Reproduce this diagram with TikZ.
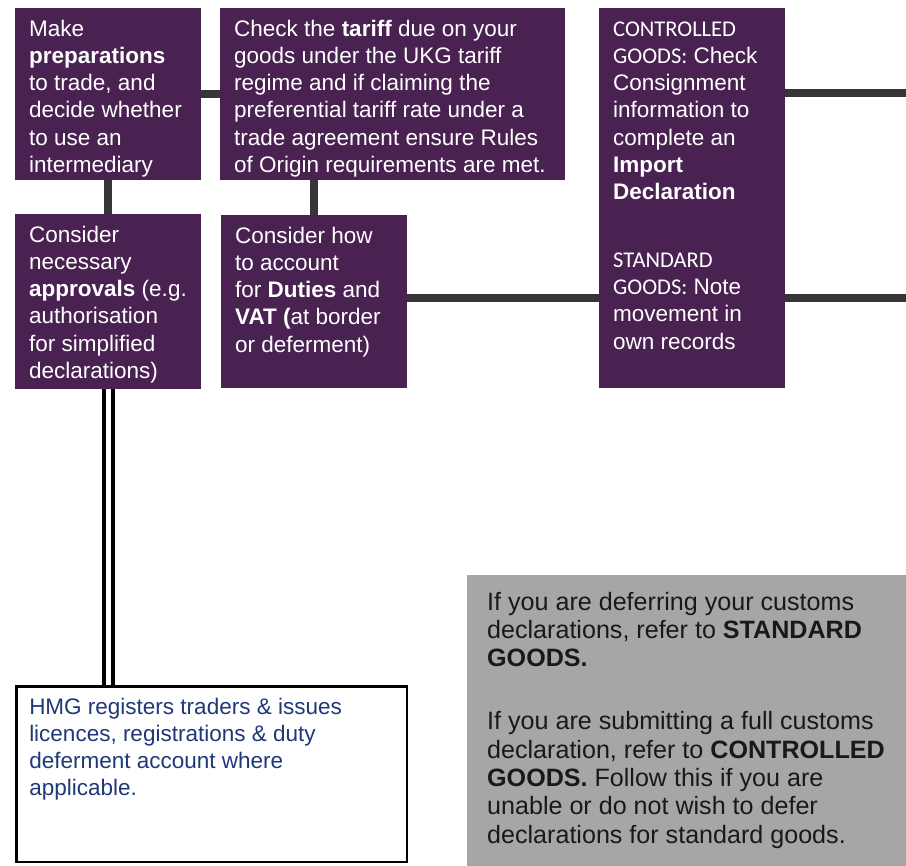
\documentclass[tikz,border=0pt]{standalone}
\usepackage{fontspec}
\setmainfont{Liberation Sans}
\newfontfamily\capsfont{Carlito}
\usetikzlibrary{positioning}
\definecolor{plum}{RGB}{74,34,82}
\definecolor{linkgrey}{RGB}{54,54,54}
\definecolor{notegrey}{RGB}{166,166,166}
\definecolor{navy}{RGB}{31,56,120}
\newcommand{\boxtext}[3]{\parbox[t][#1][t]{#2}{\raggedright\strut #3}}

\begin{document}
\begin{tikzpicture}[
		x=1pt, y=-1pt,
		stepbox/.style={fill=plum, text=white, anchor=north west, inner xsep=14pt, inner ysep=9pt,
			font=\fontsize{22.5}{27.2}\selectfont},
		hmgbox/.style={draw=black, line width=2.5pt, fill=white, text=navy, anchor=north west,
			inner xsep=12.75pt, inner ysep=8.7pt, font=\fontsize{22.5}{27.2}\selectfont},
		notebox/.style={fill=notegrey, text=black!90, anchor=north west, inner xsep=20pt, inner ysep=15pt,
			font=\fontsize{25.1}{28.3}\selectfont},
		link/.style={draw=linkgrey, line width=7.5pt},
		dbllink/.style={draw=black, line width=4pt, double=white, double distance=5pt}
		]
		\useasboundingbox (0,0) rectangle (906,866);
		
		\node[stepbox] (prep) at (15,8) {\boxtext{154pt}{158pt}{Make\\
			\textbf{preparations}\\
			to trade, and\\
			decide whether\\
			to use an\\
			intermediary}};
		\node[stepbox] (tariff) at (220,8) {\boxtext{154pt}{317pt}{Check the \textbf{tariff} due on your\\
			goods under the UKG tariff\\
			regime and if claiming the\\
			preferential tariff rate under a\\
			trade agreement ensure Rules\\
			\mbox{of Origin requirements are met.}}};
		\node[stepbox] (consign) at (599,8) {\boxtext{362pt}{158pt}{{\capsfont CONTROLLED}\\
			{\capsfont GOODS:} Check\\
			Consignment\\
			information to\\
			complete an\\
			\textbf{Import}\\
			\textbf{Declaration}\\[40.8pt]
			{\capsfont STANDARD}\\
			{\capsfont GOODS:} Note\\
			movement in\\
			own records}};
		\node[stepbox] (approv) at (15,214) {\boxtext{157pt}{158pt}{Consider\\
			necessary\\
			\mbox{\textbf{approvals} (e.g.}\\
			authorisation\\
			for simplified\\
			declarations)}};
		\node[stepbox] (duties) at (221,215) {\boxtext{155pt}{158pt}{Consider how\\
			to account\\
			\mbox{for \textbf{Duties} and}\\
			\mbox{\textbf{VAT (}at border}\\
			or deferment)}};
		\node[hmgbox] (hmg) at (15.25,685.25) {\boxtext{158pt}{365pt}{HMG registers traders \& issues\\
			licences, registrations \& duty\\
			deferment account where\\
			applicable.}};
		\node[notebox] (note) at (467,575) {\boxtext{261pt}{399pt}{If you are deferring your customs\\
			\mbox{declarations, refer to \textbf{STANDARD}}\\
			\textbf{GOODS.}\\[35pt]
			If you are submitting a full customs\\
			\mbox{declaration, refer to \textbf{CONTROLLED}}\\
			\textbf{GOODS.} Follow this if you are\\
			unable or do not wish to defer\\
			declarations for standard goods.}};
		
		\coordinate (rimtop) at (906,93);
		\coordinate (rimlow) at (906,298);
		
		\draw[link] (prep.east) -- (tariff.west);
		\draw[link] (prep.south) -- (approv.north);
		\draw[link] (duties.north) -- (duties.north |- tariff.south);
		\draw[link] (duties.east |- rimlow) -- (consign.west |- rimlow);
		\draw[link] (consign.east |- rimtop) -- (rimtop);
		\draw[link] (consign.east |- rimlow) -- (rimlow);
		\draw[dbllink] (approv.south) -- (approv.south |- hmg.north);
\end{tikzpicture}
\end{document}
